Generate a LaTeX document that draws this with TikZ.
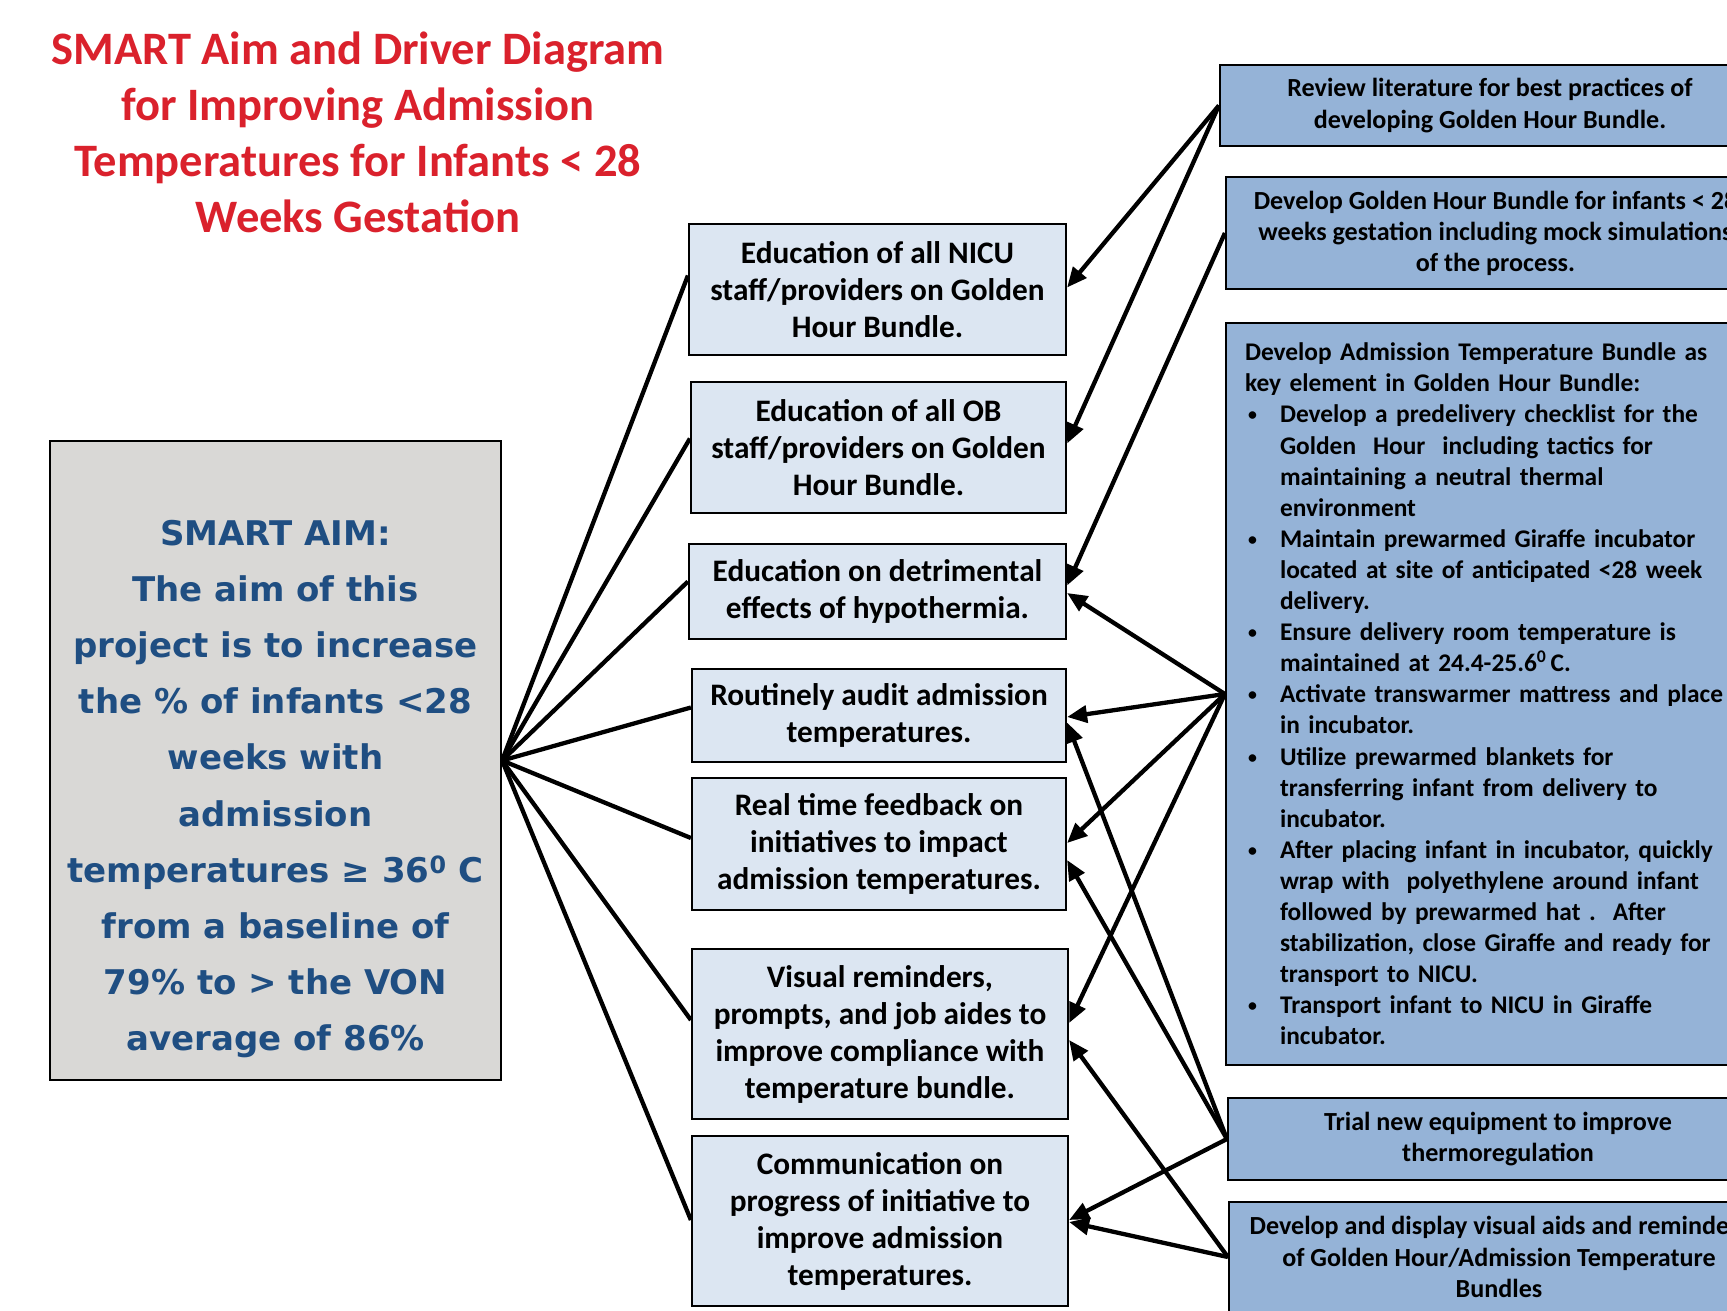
\documentclass[tikz,border=0pt]{standalone}
\usepackage{fontspec}
\setmainfont{Carlito}
\newfontfamily\aimfont{DejaVu Sans}
\usetikzlibrary{arrows.meta}
\definecolor{titlered}{RGB}{218,33,44}
\definecolor{aimblue}{RGB}{31,78,130}
\definecolor{aimgray}{RGB}{217,216,214}
\definecolor{midblue}{RGB}{220,230,242}
\definecolor{rightblue}{RGB}{149,179,215}
\newcommand\bl[1]{\hspace*{3pt}\makebox[32pt][l]{\raisebox{2pt}{\scalebox{0.7}{\textbullet}}}\mbox{#1}}
\newcommand\cl[1]{\hspace*{35pt}\mbox{#1}}
\begin{document}
\begin{tikzpicture}[x=1pt,y=-1pt,
  box/.style={draw=black, line width=2.2pt, inner sep=0pt, align=center},
  midbox/.style={box, fill=midblue, font=\bfseries\fontsize{31.3}{37}\selectfont},
  rbox/.style={box, fill=rightblue, font=\bfseries\fontsize{26.1}{31.1}\selectfont},
  link/.style={line width=4.3pt},
  arr/.style={line width=4.3pt, -{Triangle[length=20pt,width=17pt]}}]
\useasboundingbox (0,0) rectangle (1727,1310);
\clip (0,0) rectangle (1727,1310);
\fill[white] (0,0) rectangle (1727,1310);

% title
\node[align=center, text=titlered, font=\bfseries\fontsize{46.5}{56}\selectfont] (title) at (358,132)
  {SMART Aim and Driver Diagram\\for Improving Admission\\Temperatures for Infants < 28\\Weeks Gestation};

% aim box
\node[box, fill=aimgray, minimum width=451pt, minimum height=639pt] (aim) at (275.5,760.5) {};
\node[align=center, text=aimblue, font=\aimfont\bfseries\fontsize{34}{56.2}\selectfont] (aimtxt) at (275.5,789)
  {SMART AIM:\\The aim of this\\project is to increase\\the \% of infants <28\\weeks with\\admission\\temperatures ≥ 36\textsuperscript{0} C\\from a baseline of\\79\% to > the VON\\average of 86\%};

% middle boxes
\node[midbox, minimum width=377pt, minimum height=131pt] (b1) at (877.5,289.5)
  {Education of all NICU\\staff/providers on Golden\\Hour Bundle.};
\node[midbox, minimum width=375pt, minimum height=131pt] (b2) at (878.5,447.5)
  {Education of all OB\\staff/providers on Golden\\Hour Bundle.};
\node[midbox, minimum width=377pt, minimum height=95pt] (b3) at (877.5,591.5)
  {Education on detrimental\\effects of hypothermia.};
\node[midbox, minimum width=374pt, minimum height=93pt] (b4) at (879,715.5)
  {Routinely audit admission\\temperatures.};
\node[midbox, minimum width=374pt, minimum height=132pt] (b5) at (879,844)
  {Real time feedback on\\initiatives to impact\\admission temperatures.};
\node[midbox, minimum width=376pt, minimum height=170pt] (b6) at (880,1034)
  {Visual reminders,\\prompts, and job aides to\\improve compliance with\\temperature bundle.};
\node[midbox, minimum width=376pt, minimum height=170pt] (b7) at (880,1221)
  {Communication on\\progress of initiative to\\improve admission\\temperatures.};

% right boxes
\node[rbox, minimum width=540pt, minimum height=81pt] (r1) at (1490,105.5)
  {Review literature for best practices of\\developing Golden Hour Bundle.};
\node[rbox, minimum width=539pt, minimum height=112pt] (r2) at (1495.5,233)
  {Develop Golden Hour Bundle for infants < 28\\weeks gestation including mock simulations\\of the process.};
\node[rbox, align=left, text width=501pt, inner xsep=19pt, minimum height=742pt,
      font=\bfseries\fontsize{25.4}{31.1}\selectfont] (r3) at (1495.5,694)
  {Develop Admission Temperature Bundle as\\
   key element in Golden Hour Bundle:\\
   \bl{Develop a predelivery checklist for the}\\
   \cl{Golden\ \ Hour\ \ including tactics for}\\
   \cl{maintaining a neutral thermal}\\
   \cl{environment}\\
   \bl{Maintain prewarmed Giraffe incubator}\\
   \cl{located at site of anticipated <28 week}\\
   \cl{delivery.}\\
   \bl{Ensure delivery room temperature is}\\
   \cl{maintained at 24.4-25.6\textsuperscript{0}\,C.}\\
   \bl{Activate transwarmer mattress and place}\\
   \cl{in incubator.}\\
   \bl{Utilize prewarmed blankets for}\\
   \cl{transferring infant from delivery to}\\
   \cl{incubator.}\\
   \bl{After placing infant in incubator, quickly}\\
   \cl{wrap with\ \ polyethylene around infant}\\
   \cl{followed by prewarmed hat .\ \ After}\\
   \cl{stabilization, close Giraffe and ready for}\\
   \cl{transport to NICU.}\\
   \bl{Transport infant to NICU in Giraffe}\\
   \cl{incubator.}};
\node[rbox, minimum width=540pt, minimum height=82pt] (r4) at (1498,1139)
  {Trial new equipment to improve\\thermoregulation};
\node[rbox, minimum width=540pt, minimum height=110pt] (r5) at (1499,1257)
  {Develop and display visual aids and reminders\\of Golden Hour/Admission Temperature\\Bundles};

% aim to drivers
\draw[link] (aim.east) -- ([yshift=14pt]b1.west);
\draw[link] (aim.east) -- ([yshift=9pt]b2.west);
\draw[link] (aim.east) -- ([yshift=10pt]b3.west);
\draw[link] (aim.east) -- ([yshift=8pt]b4.west);
\draw[link] (aim.east) -- ([yshift=6pt]b5.west);
\draw[link] (aim.east) -- ([yshift=14pt]b6.west);
\draw[link] (aim.east) -- ([yshift=1pt]b7.west);

% change ideas to drivers
\draw[arr] (r1.west) -- ([yshift=2pt]b1.east);
\draw[arr] (r1.west) -- ([yshift=4pt]b2.east);
\draw[arr] (r2.west) -- ([yshift=6pt]b3.east);
\draw[arr] (r3.west) -- ([yshift=-1.5pt]b3.east);
\draw[arr] (r3.west) -- ([yshift=-1.5pt]b4.east);
\draw[arr] (r3.west) -- ([yshift=1pt]b5.east);
\draw[arr] (r3.west) -- ([yshift=11pt]b6.east);
\draw[arr] (r4.west) -- ([yshift=-7pt]b4.east);
\draw[arr] (r4.west) -- ([yshift=-16pt]b5.east);
\draw[arr] (r4.west) -- ([yshift=1pt]b7.east);
\draw[arr] (r5.west) -- ([yshift=-6pt]b6.east);
\draw[arr] (r5.west) -- ([yshift=-1pt]b7.east);
\end{tikzpicture}
\end{document}
